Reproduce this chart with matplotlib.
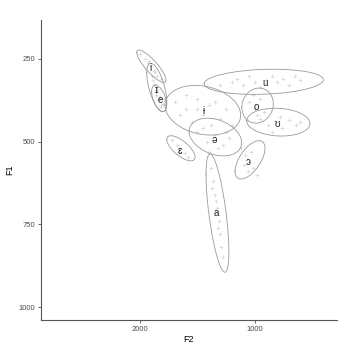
import numpy as np
import matplotlib
matplotlib.use("Agg")
import matplotlib.pyplot as plt

plt.rcParams['font.family'] = ['Liberation Sans', 'DejaVu Sans']

# vowel categories and where their labels sit (F2, F1 in Hz)
vowels = ['i', 'ɪ', 'e', 'ɨ', 'u', 'o', 'ʊ', 'ə', 'ɛ', 'ɔ', 'a']
label_f2 = [1909, 1857, 1822, 1443, 909, 982, 804, 1355, 1653, 1058, 1332]
label_f1 = [276, 344, 374, 407, 322, 394, 446, 494, 528, 561, 715]

# ellipse per vowel: centre, half ranges and F2/F1 correlation
ell_f2 = [1903, 1856, 1835, 1453, 920, 974, 792, 1343, 1645, 1040, 1325]
ell_f1 = [272, 336, 369, 405, 319, 391, 441, 486, 520, 555, 716]
ell_rx = [128, 88, 66, 331, 522, 138, 277, 230, 124, 131, 100]
ell_ry = [49, 73, 40, 75, 38, 53, 42, 57, 38, 58, 179]
ell_rho = [-0.85, -0.6, -0.5, -0.2, 0.16, 0.1, -0.1, -0.3, -0.7, 0.6, -0.65]

# individual tokens
tok_f2 = {
    'i': [2000, 1960, 1930, 1905, 1880, 1850, 1920, 1870, 1820],
    'ɪ': [1900, 1870, 1850, 1830, 1880, 1860, 1815, 1890],
    'e': [1860, 1830, 1800, 1845, 1820, 1790],
    'ɨ': [1700, 1600, 1500, 1400, 1300, 1550, 1450, 1350, 1250, 1650, 1500, 1380, 1200, 1600],
    'u': [1300, 1150, 1050, 1000, 900, 850, 750, 650, 1100, 950, 800, 700, 600, 1200],
    'o': [1050, 1000, 950, 920, 1010, 980],
    'ʊ': [950, 880, 820, 760, 700, 640, 850, 780, 600],
    'ə': [1500, 1420, 1350, 1280, 1220, 1450, 1320, 1400, 1250],
    'ɛ': [1720, 1680, 1650, 1610, 1580, 1660],
    'ɔ': [1120, 1080, 1050, 1010, 980, 1060, 1030, 1090],
    'a': [1380, 1360, 1350, 1330, 1310, 1300, 1290, 1340, 1320, 1370, 1280],
}
tok_f1 = {
    'i': [235, 250, 262, 270, 285, 300, 255, 290, 310],
    'ɪ': [300, 325, 345, 370, 330, 360, 390, 315],
    'e': [350, 365, 385, 375, 395, 370],
    'ɨ': [380, 360, 400, 390, 430, 440, 420, 380, 400, 420, 370, 450, 450, 400],
    'u': [330, 310, 300, 320, 315, 300, 310, 300, 330, 335, 320, 330, 315, 320],
    'o': [380, 400, 370, 410, 360, 420],
    'ʊ': [430, 450, 440, 460, 435, 450, 470, 425, 440],
    'ə': [470, 500, 480, 510, 490, 460, 520, 530, 470],
    'ɛ': [495, 510, 520, 535, 545, 530],
    'ɔ': [520, 540, 560, 580, 600, 590, 530, 570],
    'a': [580, 620, 660, 700, 740, 780, 820, 680, 760, 640, 850],
}

fig = plt.figure(figsize=(3.39, 3.44), dpi=100)
ax = fig.add_axes([0.121, 0.07, 0.873, 0.872])

for v in vowels:
    ax.plot(tok_f2[v], tok_f1[v], linestyle='none', marker='+', markersize=3,
            markeredgewidth=0.5, color='#d4d4d4')

t = np.linspace(0, 2 * np.pi, 200)
for cx, cy, rx, ry, rho in zip(ell_f2, ell_f1, ell_rx, ell_ry, ell_rho):
    phi = np.arccos(rho)
    ax.plot(cx + rx * np.cos(t), cy + ry * np.cos(t + phi), color='#9a9a9a', lw=0.6)

for v, x, y in zip(vowels, label_f2, label_f1):
    ax.text(x, y, v, ha='center', va='center', fontsize=7, color='#222222')

ax.set_xlim(2869, 279)
ax.set_ylim(1039, 132)
ax.set_xticks([2000, 1000])
ax.set_yticks([250, 500, 750, 1000])
ax.tick_params(labelsize=5.5, colors='#4d4d4d', length=2.5, width=0.6, pad=2)
for s in ['top', 'right']:
    ax.spines[s].set_visible(False)
for s in ['left', 'bottom']:
    ax.spines[s].set_color('#555555')
    ax.spines[s].set_linewidth(0.8)
ax.set_xlabel('F2', fontsize=6.5, labelpad=1)
ax.set_ylabel('F1', fontsize=6.5, labelpad=3)

fig.savefig('out.png', dpi=100)
